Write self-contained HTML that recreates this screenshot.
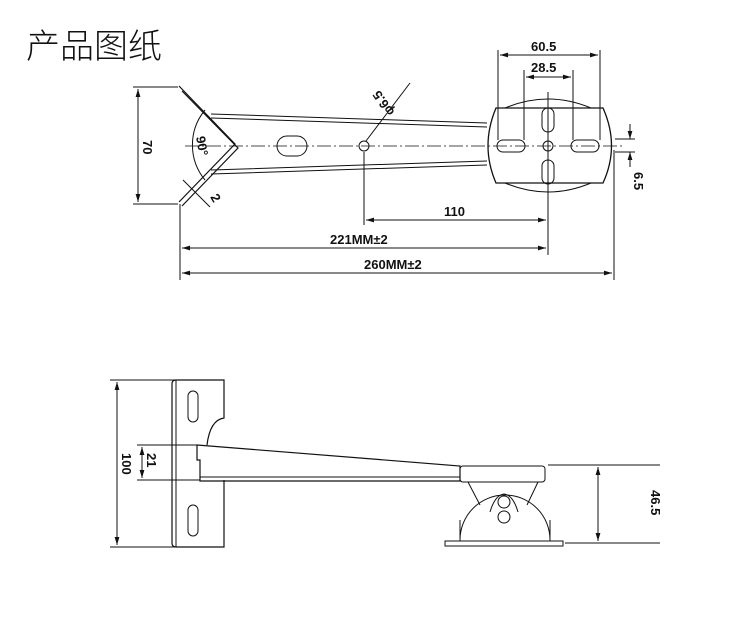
<!DOCTYPE html>
<html><head><meta charset="utf-8"><style>
body{margin:0;background:#fff;width:750px;height:636px;overflow:hidden}
svg text{font-family:"Liberation Sans",sans-serif;font-weight:bold;font-size:13px;fill:#111}
</style></head><body>
<svg width="750" height="636" viewBox="0 0 750 636" xmlns="http://www.w3.org/2000/svg">
<defs><marker id="a" viewBox="0 0 10 6" refX="10" refY="3" markerWidth="8" markerHeight="5" orient="auto-start-reverse"><path d="M0,0L10,3L0,6z" fill="#111"/></marker></defs>
<text x="26" y="58" style="font-family:'Noto Sans CJK SC',sans-serif;font-weight:300;font-size:34px">产品图纸</text>
<g stroke="#111" fill="none" stroke-width="1">
<!-- top view -->
<line x1="133" y1="87" x2="178" y2="87"/><line x1="133" y1="204" x2="178" y2="204"/>
<line x1="138" y1="89" x2="138" y2="202" marker-start="url(#a)" marker-end="url(#a)"/>
<path d="M179,86 L235,144 L179,202" stroke-width="1.2"/><path d="M182,91 L238,148 L182,206" stroke-width="1.2"/>
<path d="M211,114 L487,123 M211,118 L487,127 M211,174 L487,165 M211,170 L487,161"/>
<path d="M205,110 A55,55 0 0 0 205,180"/>
<line x1="185" y1="146" x2="625" y2="146" stroke-dasharray="14,3,2,3" stroke-width=".8"/>
<rect x="277" y="136" width="30" height="20" rx="10"/>
<circle cx="364" cy="146" r="5"/>
<line x1="366" y1="141" x2="410" y2="83"/>
<path d="M496,108 L603,108 Q620,146 603,183 L496,183 Q480,146 496,108z" stroke-width="1.3"/>
<path d="M505,108 Q548,90 591,108 M505,183 Q548,201 591,183"/>
<rect x="542" y="108" width="12" height="24" rx="6"/><rect x="542" y="160" width="12" height="24" rx="6"/>
<rect x="497" y="140" width="28" height="12" rx="6"/><rect x="571" y="140" width="28" height="12" rx="6"/>
<circle cx="548" cy="146" r="5"/>
<line x1="548" y1="92" x2="548" y2="255"/>
<line x1="498" y1="50" x2="498" y2="140"/><line x1="600" y1="50" x2="600" y2="140"/>
<line x1="500" y1="55" x2="598" y2="55" marker-start="url(#a)" marker-end="url(#a)"/>
<line x1="524" y1="70" x2="524" y2="140"/><line x1="573" y1="70" x2="573" y2="140"/>
<line x1="526" y1="77" x2="571" y2="77" marker-start="url(#a)" marker-end="url(#a)"/>
<line x1="364" y1="152" x2="364" y2="225"/>
<line x1="366" y1="220" x2="546" y2="220" marker-start="url(#a)" marker-end="url(#a)"/>
<line x1="180" y1="204" x2="180" y2="280"/><line x1="614" y1="150" x2="614" y2="280"/>
<line x1="182" y1="248" x2="546" y2="248" marker-start="url(#a)" marker-end="url(#a)"/>
<line x1="182" y1="273" x2="612" y2="273" marker-start="url(#a)" marker-end="url(#a)"/>
<line x1="615" y1="139" x2="635" y2="139"/><line x1="615" y1="152" x2="635" y2="152"/>
<line x1="630" y1="124" x2="630" y2="139" marker-end="url(#a)"/><line x1="630" y1="167" x2="630" y2="152" marker-end="url(#a)"/>
<line x1="183" y1="180" x2="210" y2="207"/>
<!-- bottom view -->
<line x1="110" y1="380" x2="180" y2="380"/><line x1="110" y1="547" x2="180" y2="547"/>
<line x1="117" y1="382" x2="117" y2="545" marker-start="url(#a)" marker-end="url(#a)"/>
<path d="M176,380 L224,380 L224,418 Q210,420 207,445" stroke-width="1.2"/>
<path d="M224,480 L224,547 L176,547 Q172,547 172,543 L172,384 Q172,380 176,380" stroke-width="1.2"/>
<line x1="176" y1="380" x2="176" y2="547"/>
<rect x="188" y="391" width="10" height="31" rx="5"/><rect x="188" y="505" width="10" height="31" rx="5"/>
<path d="M197,445 L460,466 L460,481 L200,481 L200,460 L197,460z" stroke-width="1.2"/>
<line x1="200" y1="477" x2="460" y2="477"/>
<rect x="460" y="466" width="85" height="16" rx="3"/>
<line x1="137" y1="445" x2="197" y2="445"/><line x1="137" y1="480" x2="200" y2="480"/>
<line x1="142" y1="447" x2="142" y2="478" marker-start="url(#a)" marker-end="url(#a)"/>
<path d="M468,482 L480,505 M538,482 L527,505"/>
<path d="M460,540 A45,45 0 0 1 550,540"/>
<line x1="460" y1="520" x2="460" y2="541"/><line x1="550" y1="520" x2="550" y2="541"/>
<rect x="445" y="541" width="118" height="5"/>
<circle cx="504" cy="502" r="6"/><circle cx="504" cy="517" r="6"/>
<path d="M490,512 Q495,495 504,494 Q513,495 518,512"/>
<line x1="548" y1="465" x2="660" y2="465"/><line x1="565" y1="543" x2="660" y2="543"/>
<line x1="598" y1="467" x2="598" y2="541" marker-start="url(#a)" marker-end="url(#a)"/>
</g>
<text x="531" y="51">60.5</text><text x="531" y="72">28.5</text>
<text x="444" y="216">110</text><text x="330" y="244">221MM±2</text><text x="364" y="269">260MM±2</text>
<text transform="translate(143,140) rotate(90)">70</text>
<text transform="translate(196,137) rotate(80)">90°</text>
<text transform="translate(210,197) rotate(60)">2</text>
<text transform="translate(395,112) rotate(-125)">φ6.5</text>
<text transform="translate(634,172) rotate(90)">6.5</text>
<text transform="translate(122,453) rotate(90)">100</text>
<text transform="translate(147,453) rotate(90)">21</text>
<text transform="translate(651,490) rotate(90)">46.5</text>
</svg>
</body></html>
